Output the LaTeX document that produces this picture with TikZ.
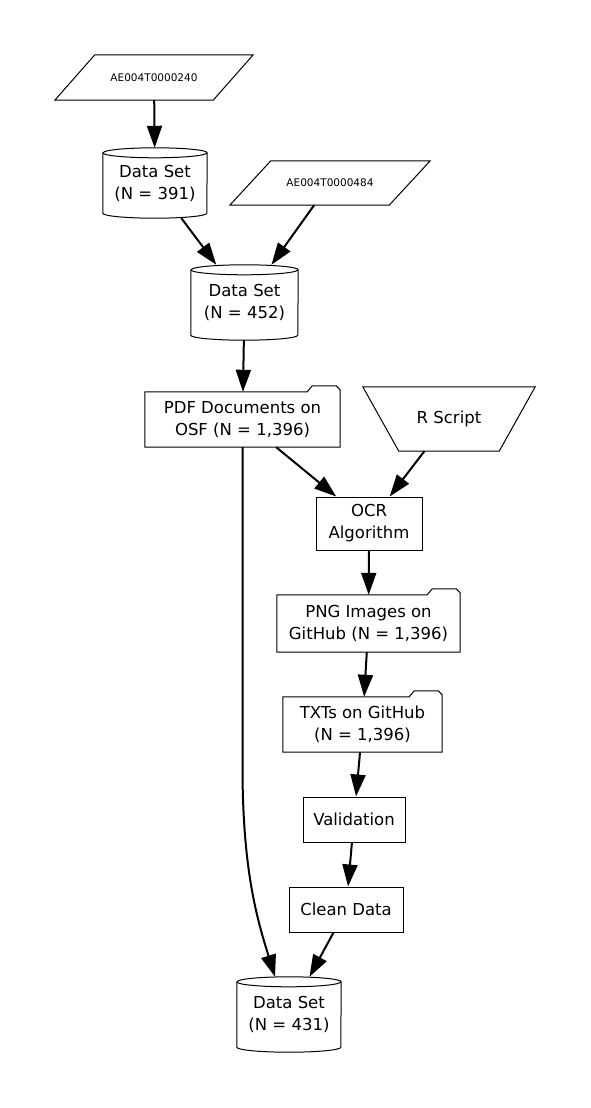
\documentclass[tikz,border=0pt]{standalone}
\usepackage{fontspec}
\setmainfont{DejaVu Sans}
\usetikzlibrary{arrows.meta,calc}

% outlines of the special node shapes, drawn around plain rectangle nodes
\newcommand\cylshape[2]{% node, half width
  \draw[outline] ($(#1.north west)+(0,5)$) -- ($(#1.south west)+(0,-5)$)
    arc[start angle=180,end angle=360,x radius=#2pt,y radius=5pt]
    -- ($(#1.north east)+(0,5)$)
    arc[start angle=0,end angle=180,x radius=#2pt,y radius=5pt] -- cycle;
  \draw[outline] ($(#1.north west)+(0,5)$)
    arc[start angle=180,end angle=360,x radius=#2pt,y radius=5pt];}
\newcommand\foldershape[1]{%
  \draw[outline] (#1.south west) -- (#1.north west) -- ($(#1.north east)+(-33,0)$)
    -- ++(5,-6) -- ++(24,0) -- ++(4,4) -- (#1.south east) -- cycle;}
\newcommand\parashape[2]{%
  \draw[outline] ($(#1.north west)+(#2,0)$) -- (#1.north east)
    -- ($(#1.south east)+(-#2,0)$) -- (#1.south west) -- cycle;}
\newcommand\trapshape[2]{%
  \draw[outline] (#1.north west) -- (#1.north east)
    -- ($(#1.south east)+(-#2,0)$) -- ($(#1.south west)+(#2,0)$) -- cycle;}

\tikzset{
  nd/.style={inner sep=0pt, align=center, font=\fontsize{16.5}{22}\selectfont},
  small/.style={font=\fontsize{10.5}{13}\selectfont},
  box/.style={draw, line width=1pt},
  outline/.style={line width=1pt, line join=miter},
  link/.style={line width=2pt, -{Triangle[length=22pt,width=15pt]}},
}

\begin{document}
\begin{tikzpicture}[x=1pt,y=-1pt]
\fill[white] (0,0) rectangle (591,1108);
\useasboundingbox (0,0) rectangle (591,1108);

% nodes
\node[nd, small, minimum width=198pt, minimum height=45pt] (in1) at (154,77.5) {AE004T0000240};
\node[nd, minimum width=104pt, minimum height=70pt] (ds1) at (155,183) {Data Set\\(N = 391)};
\node[nd, small, minimum width=200pt, minimum height=44pt] (in2) at (330,183) {AE004T0000484};
\node[nd, minimum width=107pt, minimum height=75pt] (ds2) at (244.5,302.5) {Data Set\\(N = 452)};
\node[nd, minimum width=195pt, minimum height=55pt] (pdf) at (242.5,419.5) {PDF Documents on\\OSF (N = 1,396)};
\node[nd, minimum width=172pt, minimum height=64pt] (rs) at (449,419) {R Script};
\node[nd, box, minimum width=106pt, minimum height=53pt] (ocr) at (369,523.5) {OCR\\Algorithm};
\node[nd, minimum width=183pt, minimum height=57pt] (png) at (368.5,623.5) {PNG Images on\\GitHub (N = 1,396)};
\node[nd, minimum width=159pt, minimum height=55pt] (txt) at (362.5,724.5) {TXTs on GitHub\\(N = 1,396)};
\node[nd, box, minimum width=102pt, minimum height=45pt] (val) at (354,819.5) {Validation};
\node[nd, box, minimum width=114pt, minimum height=45pt] (clean) at (346,909.5) {Clean Data};
\node[nd, minimum width=104pt, minimum height=75pt] (ds3) at (289,1014.5) {Data Set\\(N = 431)};

% shape outlines
\parashape{in1}{40}
\parashape{in2}{41}
\cylshape{ds1}{52}
\cylshape{ds2}{53.5}
\cylshape{ds3}{52}
\foldershape{pdf}
\foldershape{png}
\foldershape{txt}
\trapshape{rs}{36}

% connectors
\draw[link] (in1) -- (ds1);
\draw[link] (ds1) -- (ds2);
\draw[link] (in2) -- (ds2);
\draw[link] (ds2) -- (pdf);
\draw[link] (pdf) -- (ocr);
\draw[link] (rs) -- (ocr);
\draw[link] (ocr) -- (png);
\draw[link] (png) -- (txt);
\draw[link] (txt) -- (val);
\draw[link] (val) -- (clean);
\draw[link] (clean) -- (ds3);
\draw[link] (pdf.south) -- ++(0,320)
  .. controls +(0,105) and +(-17,-55) .. ($(ds3.north)+(-14,0)$);
\end{tikzpicture}
\end{document}
